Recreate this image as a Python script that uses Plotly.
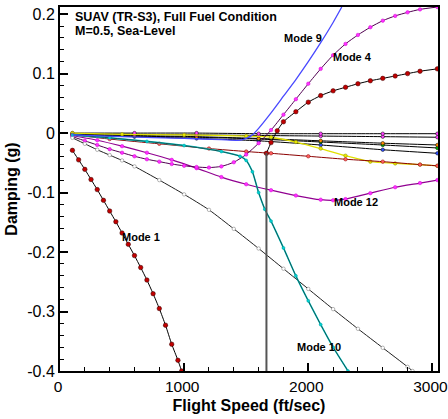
import plotly.graph_objects as go

# ---------------- data ----------------
mode1_x = [100, 150, 200, 250, 300, 350, 400, 450, 500, 550, 600, 650, 700, 750, 800, 850, 900, 950, 980]
mode1_y = [-0.029, -0.045, -0.061, -0.078, -0.095, -0.113, -0.131, -0.149, -0.168, -0.187, -0.206,
           -0.226, -0.247, -0.270, -0.295, -0.323, -0.355, -0.382, -0.400]

diag_x = [100, 200, 300, 400, 500, 600, 800, 1000, 1200, 1400, 1600, 1800, 2000, 2200, 2400, 2600, 2800, 2840]
diag_y = [-0.008, -0.018, -0.028, -0.037, -0.046, -0.056, -0.079, -0.103, -0.129, -0.161, -0.194,
          -0.228, -0.262, -0.296, -0.329, -0.361, -0.393, -0.400]

mode10_x = [100, 400, 700, 1000, 1300, 1450, 1500, 1550, 1600, 1650, 1700, 1800, 1900, 2000, 2100, 2200, 2320]
mode10_y = [-0.003, -0.008, -0.014, -0.021, -0.031, -0.039, -0.046, -0.065, -0.100, -0.128, -0.148,
            -0.193, -0.240, -0.282, -0.322, -0.360, -0.400]

mode9_x = [100, 500, 1000, 1300, 1450, 1500, 1550, 1600, 1700, 1800, 1900, 2000, 2100, 2200, 2270]
mode9_y = [-0.003, -0.006, -0.009, -0.011, -0.012, -0.009, -0.003, 0.008, 0.034, 0.062, 0.090,
           0.120, 0.152, 0.186, 0.212]

mode4_x = [100, 200, 300, 400, 500, 600, 700, 800, 900, 1000, 1100, 1200, 1300, 1400, 1500, 1600,
           1700, 1800, 1900, 2000, 2100, 2200, 2300, 2400, 2500, 2600, 2700, 2800, 2900, 3040]
mode4_y = [-0.006, -0.013, -0.020, -0.027, -0.033, -0.039, -0.044, -0.048, -0.052, -0.055, -0.057,
           -0.058, -0.056, -0.049, -0.036, -0.017, 0.005, 0.031, 0.057, 0.083, 0.108, 0.131, 0.150,
           0.165, 0.178, 0.189, 0.197, 0.203, 0.208, 0.212]

mode12_x = [100, 300, 500, 700, 900, 1100, 1300, 1500, 1700, 1900, 2100, 2200, 2300, 2500, 2700, 2900, 3040]
mode12_y = [-0.004, -0.012, -0.022, -0.033, -0.045, -0.059, -0.074, -0.086, -0.096, -0.105, -0.112,
            -0.113, -0.111, -0.101, -0.091, -0.084, -0.079]

rise_x = [1663, 1700, 1750, 1800, 1900, 2000, 2100, 2200, 2300, 2400, 2500, 2600, 2700, 2800, 2900, 3040]
rise_y = [-0.034, -0.016, 0.004, 0.019, 0.036, 0.052, 0.063, 0.071, 0.077, 0.083, 0.088, 0.092,
          0.096, 0.100, 0.104, 0.108]

red_x = [100, 400, 800, 1200, 1500, 1700, 2000, 2300, 2600, 2900, 3040]
red_y = [-0.003, -0.010, -0.018, -0.026, -0.031, -0.034, -0.039, -0.044, -0.048, -0.053, -0.055]

yellow_x = [100, 500, 1000, 1500, 1700, 1900, 2100, 2300, 2500, 2700, 2900, 3040]
yellow_y = [0.0, -0.002, -0.003, -0.005, -0.007, -0.015, -0.026, -0.038, -0.048, -0.051, -0.053, -0.055]

cluster_x = [100, 600, 1100, 1600, 2100, 2600, 3040]
cluster_a = [0.0, 0.0, 0.0, -0.001, -0.001, -0.001, -0.001]
cluster_b = [-0.001, -0.002, -0.003, -0.004, -0.005, -0.006, -0.007]
cluster_c = [-0.002, -0.004, -0.006, -0.009, -0.013, -0.017, -0.020]
cluster_d = [-0.003, -0.005, -0.007, -0.010, -0.015, -0.020, -0.025]
cluster_e = [-0.004, -0.006, -0.009, -0.013, -0.020, -0.028, -0.034]

flutter_x = [1663, 1663]
flutter_y = [-0.4, -0.033]

x_ticks = [0, 1000, 2000, 3000]
x_ticktext = ["0", "1000", "2000", "3000"]
y_ticks = [-0.4, -0.3, -0.2, -0.1, 0, 0.1, 0.2]
y_ticktext = ["-0.4", "-0.3", "-0.2", "-0.1", "0", "0.1", "0.2"]

labels = ["Mode 9", "Mode 4", "Mode 12", "Mode 1", "Mode 10"]
label_x = [1957, 2360, 2384, 652, 2086]
label_y = [0.160, 0.128, -0.116, -0.175, -0.360]

title_lines = ["SUAV (TR-S3), Full Fuel Condition", "M=0.5, Sea-Level"]

# ---------------- figure ----------------
FONT = "Liberation Sans, Arial, sans-serif"
fig = go.Figure()


def add(x, y, line_color, line_w, mcolor=None, msize=4, msym="circle", mline="black", shape="spline"):
    mode = "lines+markers" if mcolor else "lines"
    kw = dict(x=x, y=y, mode=mode, showlegend=False, hoverinfo="skip",
              line=dict(color=line_color, width=line_w, shape=shape, smoothing=0.6))
    if mcolor:
        kw["marker"] = dict(color=mcolor, size=msize, symbol=msym, line=dict(color=mline, width=0.5))
    fig.add_trace(go.Scatter(**kw))


# cluster near zero
add(cluster_x, cluster_e, "black", 1, "#3050ff", 3.5)
add(cluster_x, cluster_d, "black", 1, "#00b000", 3.5)
add(cluster_x, cluster_c, "black", 1, "#ff8c00", 3.5)
add(cluster_x, cluster_b, "black", 1, "#ff40ff", 3.5)
add(cluster_x, cluster_a, "black", 1, "#ff40ff", 3.5)
# yellow
add(yellow_x, yellow_y, "#e0e000", 1.3, "#e8e800", 3.5, mline="#888800")
# red descending
add(red_x, red_y, "#8b0000", 1, "#ff6060", 3.5, mline="#8b0000")
# mode 12
add(mode12_x, mode12_y, "#900090", 1.2, "#ff30ff", 3.5, mline="#d000d0")
# mode 4
add(mode4_x, mode4_y, "#500050", 1, "#ff30ff", 3.5, mline="#d000d0")
# rising dark red
add(rise_x, rise_y, "black", 1, "#c00000", 4.5, mline="#400000")
# diagonal with open circles
add(diag_x, diag_y, "#202020", 1, "white", 3.5, mline="#707070")
# mode 10
add(mode10_x, mode10_y, "#00d0d0", 1.6)
add(mode10_x, mode10_y, "#202020", 0.7, "#00d0d0", 3, mline="#00a0a0")
# mode 9
add(mode9_x, mode9_y, "#4848ff", 1.3)
# mode 1
add(mode1_x, mode1_y, "black", 1, "#c00000", 4.5, mline="#300000")
# flutter speed marker line
fig.add_trace(go.Scatter(x=flutter_x, y=flutter_y, mode="lines", showlegend=False, hoverinfo="skip",
                         line=dict(color="#555555", width=2)))

for t, xx, yy in zip(labels, label_x, label_y):
    fig.add_annotation(x=xx, y=yy, text=t, showarrow=False, xanchor="center", yanchor="middle",
                       font=dict(family=FONT, size=11, color="black", weight="bold"))

for i, t in enumerate(title_lines):
    fig.add_annotation(x=105, y=0.195 - i * 0.024, text=t, showarrow=False, xanchor="left",
                       yanchor="middle", font=dict(family=FONT, size=12.5, color="black", weight="bold"))

axis_common = dict(showgrid=False, zeroline=False, showline=True, linecolor="black", linewidth=2,
                   mirror=True, ticks="inside", ticklen=8, tickwidth=2, tickcolor="black",
                   automargin=False, ticklabeloverflow="allow")

fig.update_xaxes(range=[0, 3045], tickvals=x_ticks, ticktext=x_ticktext, ticklabelshift=-2,
                 tickfont=dict(family=FONT, size=15.5, color="black"),
                 minor=dict(ticks="inside", ticklen=4, tickwidth=1, tickcolor="black", dtick=200, tick0=0),
                 title=dict(text="Flight Speed (ft/sec)", standoff=6,
                            font=dict(family=FONT, size=16, color="black", weight="bold")),
                 **axis_common)
fig.update_yaxes(range=[-0.4, 0.212], tickvals=y_ticks, ticktext=y_ticktext,
                 tickfont=dict(family=FONT, size=16, color="black"),
                 minor=dict(ticks="inside", ticklen=4, tickwidth=1, tickcolor="black", dtick=0.02, tick0=0),
                 title=dict(text="Damping (g)", standoff=6,
                            font=dict(family=FONT, size=16, color="black", weight="bold")),
                 **axis_common)

fig.update_layout(width=448, height=419, margin=dict(l=60, r=10, t=7, b=48),
                  paper_bgcolor="white", plot_bgcolor="white")

fig.write_html("out.html", config={"displayModeBar": False},
               post_script="document.body.style.margin='0';document.body.style.padding='0';")
